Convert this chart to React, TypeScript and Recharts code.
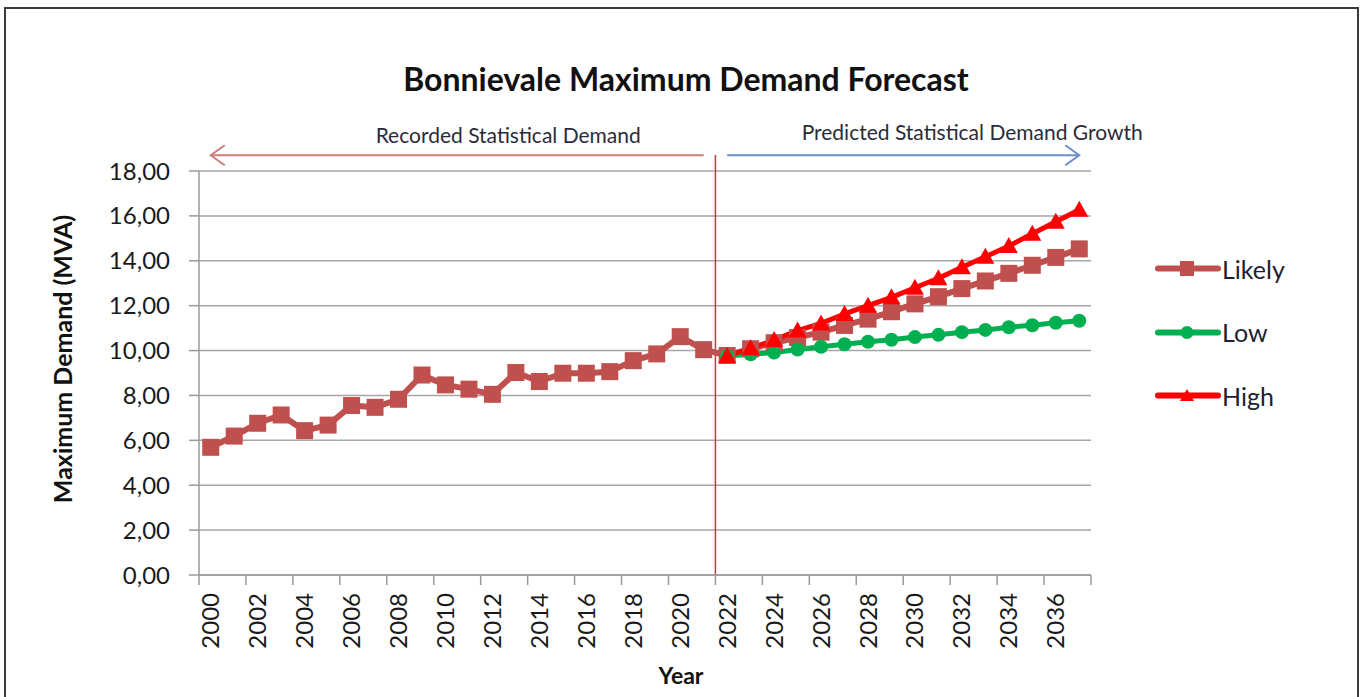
import React from 'react';
import { LineChart, Line, XAxis, YAxis, CartesianGrid, ReferenceLine, Legend } from 'recharts';

// ---------- data ----------
const years = [
  '2000', '2001', '2002', '2003', '2004', '2005', '2006', '2007', '2008', '2009',
  '2010', '2011', '2012', '2013', '2014', '2015', '2016', '2017', '2018', '2019',
  '2020', '2021', '2022', '2023', '2024', '2025', '2026', '2027', '2028', '2029',
  '2030', '2031', '2032', '2033', '2034', '2035', '2036', '2037',
];

const likelyValues = [
  5.69, 6.19, 6.76, 7.13, 6.43, 6.68, 7.55, 7.47, 7.83, 8.91,
  8.47, 8.28, 8.05, 9.02, 8.62, 8.99, 8.99, 9.06, 9.55, 9.85,
  10.62, 10.04, 9.78, 10.08, 10.35, 10.58, 10.82, 11.12, 11.4, 11.73,
  12.08, 12.4, 12.76, 13.1, 13.44, 13.8, 14.15, 14.53,
];

const forecastYears = [
  '2022', '2023', '2024', '2025', '2026', '2027', '2028', '2029',
  '2030', '2031', '2032', '2033', '2034', '2035', '2036', '2037',
];

const lowValues = [
  9.76, 9.83, 9.91, 10.05, 10.17, 10.28, 10.39, 10.48,
  10.6, 10.7, 10.82, 10.92, 11.04, 11.13, 11.24, 11.33,
];

const highValues = [
  9.76, 10.1, 10.47, 10.89, 11.21, 11.63, 12.0, 12.37,
  12.8, 13.22, 13.71, 14.18, 14.66, 15.2, 15.74, 16.27,
];

const yTicks = [0, 2, 4, 6, 8, 10, 12, 14, 16, 18];

const recordedFrom = '2000';
const recordedTo = '2021';
const predictedFrom = '2022';
const predictedTo = '2037';

const data = years.map((year, i) => {
  const f = forecastYears.indexOf(year);
  return {
    year,
    likely: likelyValues[i],
    low: f >= 0 ? lowValues[f] : null,
    high: f >= 0 ? highValues[f] : null,
  };
});

// ---------- layout / style ----------
const W = 1368;
const H = 697;
const MARGIN = { top: 171, right: 277, bottom: 42, left: 79 };
const Y_AXIS_W = 120;
const X_AXIS_H = 80;
const PLOT_W = W - MARGIN.left - MARGIN.right - Y_AXIS_W;
const HALF_BAND = PLOT_W / years.length / 2;
const ANNOT_Y = 18.7;

const FONT = 'Lato, "Open Sans", sans-serif';
const LIKELY = '#C0504D';
const LOW = '#00B050';
const HIGH = '#FF0000';
const GRID = '#A6A6A6';
const AXIS = '#9A9A9A';
const TEXT = '#1a1a1a';

const squareDot = (p: any) => {
  if (p.cx == null || p.cy == null) return <g key={`s${p.index}`} />;
  return <rect key={`s${p.index}`} x={p.cx - 8.5} y={p.cy - 8.5} width={17} height={17} fill={LIKELY} />;
};
const circleDot = (p: any) => {
  if (p.cx == null || p.cy == null) return <g key={`c${p.index}`} />;
  return <circle key={`c${p.index}`} cx={p.cx} cy={p.cy} r={7} fill={LOW} />;
};
const triangleDot = (p: any) => {
  if (p.cx == null || p.cy == null) return <g key={`t${p.index}`} />;
  const { cx, cy } = p;
  return (
    <polygon
      key={`t${p.index}`}
      points={`${cx},${cy - 9} ${cx - 9},${cy + 7} ${cx + 9},${cy + 7}`}
      fill={HIGH}
    />
  );
};

const XTick = (props: any) => {
  const { x, y, payload } = props;
  const left = x - HALF_BAND;
  const isLast = payload && payload.index === years.length - 2;
  return (
    <g>
      <line x1={left} x2={left} y1={y} y2={y + 10} stroke={AXIS} strokeWidth={1.5} />
      {isLast && (
        <line x1={x + 3 * HALF_BAND} x2={x + 3 * HALF_BAND} y1={y} y2={y + 10} stroke={AXIS} strokeWidth={1.5} />
      )}
      <text
        x={x + 8.5}
        y={y + 18}
        transform={`rotate(-90, ${x + 8.5}, ${y + 18})`}
        textAnchor="end"
        fontSize={24}
        fill={TEXT}
        fontFamily={FONT}
      >
        {payload.value}
      </text>
    </g>
  );
};

const arrowShape = (color: string, tip: 'start' | 'end', label: string, dx: number, dy: number) => (p: any) => {
  const { x1, y1, x2, y2 } = p;
  const tx = tip === 'start' ? x1 : x2;
  const dir = tip === 'start' ? 1 : -1;
  return (
    <g>
      <line x1={x1} y1={y1} x2={x2} y2={y2} stroke={color} strokeWidth={2} />
      <polyline
        points={`${tx + dir * 14},${y1 - 10} ${tx},${y1} ${tx + dir * 14},${y1 + 10}`}
        fill="none"
        stroke={color}
        strokeWidth={2}
      />
      <text x={(x1 + x2) / 2 + dx} y={y1 + dy} textAnchor="middle" fontSize={21} fill="#2b2b3a" fontFamily={FONT}>
        {label}
      </text>
    </g>
  );
};

const dividerShape = (p: any) => {
  const top = Math.min(p.y1, p.y2);
  const bottom = Math.max(p.y1, p.y2);
  return <line x1={p.x1} x2={p.x2} y1={top - 16} y2={bottom} stroke="#B5403D" strokeWidth={1.5} />;
};

const legendRows = [
  { key: 'likely', name: 'Likely', color: LIKELY },
  { key: 'low', name: 'Low', color: LOW },
  { key: 'high', name: 'High', color: HIGH },
];

const legendMarker = (key: string, color: string) => {
  if (key === 'likely') return <rect x={25} y={5} width={14} height={15} fill={color} />;
  if (key === 'low') return <circle cx={32} cy={12.5} r={6.5} fill={color} />;
  return <polygon points="32,6 25,18 39,18" fill={color} />;
};

const renderLegend = () => (
  <div style={{ fontFamily: FONT }}>
    {legendRows.map((r) => (
      <div key={r.key} style={{ height: 63.5, display: 'flex', alignItems: 'center' }}>
        <svg width={66} height={25}>
          <line x1={3} y1={12.5} x2={63} y2={12.5} stroke={r.color} strokeWidth={6} strokeLinecap="round" />
          {legendMarker(r.key, r.color)}
        </svg>
        <span style={{ fontSize: 25, color: '#1f1f33', marginLeft: 1 }}>{r.name}</span>
      </div>
    ))}
  </div>
);

export default function App() {
  return (
    <div style={{ position: 'absolute', left: 0, top: 0, width: W, height: H, background: '#fff', fontFamily: FONT, overflow: 'hidden' }}>
      <div
        style={{
          position: 'absolute',
          left: 4,
          top: 7,
          width: 1351,
          height: 710,
          borderLeft: '2px solid #3a3a3a',
          borderTop: '2px solid #3a3a3a',
          borderRight: '2px solid #3a3a3a',
        }}
      />
      <LineChart width={W} height={H} data={data} margin={MARGIN} style={{ fontFamily: FONT }}>
        <CartesianGrid vertical={false} stroke={GRID} strokeWidth={1.5} />
        <XAxis
          dataKey="year"
          scale="band"
          interval={1}
          height={X_AXIS_H}
          tickLine={false}
          tickSize={0}
          tickMargin={0}
          axisLine={{ stroke: AXIS, strokeWidth: 1.5 }}
          tick={(props: any) => <XTick {...props} />}
        />
        <YAxis
          width={Y_AXIS_W}
          domain={[0, 18]}
          ticks={yTicks}
          interval={0}
          tickSize={10}
          tickMargin={19}
          tickLine={{ stroke: AXIS, strokeWidth: 1.5 }}
          axisLine={{ stroke: AXIS, strokeWidth: 1.5 }}
          tick={{ fontSize: 24, fill: TEXT, fontFamily: FONT }}
          tickFormatter={(v: number) => v.toFixed(2).replace('.', ',')}
        />
        <ReferenceLine x={predictedFrom} position="start" ifOverflow="visible" shape={dividerShape} />
        <ReferenceLine
          ifOverflow="visible"
          segment={[{ x: recordedFrom, y: ANNOT_Y }, { x: recordedTo, y: ANNOT_Y }]}
          shape={arrowShape('#CC7F7D', 'start', 'Recorded Statistical Demand', 51, -12)}
        />
        <ReferenceLine
          ifOverflow="visible"
          segment={[{ x: predictedFrom, y: ANNOT_Y }, { x: predictedTo, y: ANNOT_Y }]}
          shape={arrowShape('#6A8FCB', 'end', 'Predicted Statistical Demand Growth', 69, -15)}
        />
        <Line
          type="linear"
          dataKey="likely"
          name="Likely"
          stroke={LIKELY}
          strokeWidth={6}
          strokeLinejoin="round"
          dot={squareDot}
          activeDot={false}
          isAnimationActive={false}
        />
        <Line
          type="linear"
          dataKey="low"
          name="Low"
          stroke={LOW}
          strokeWidth={5}
          strokeLinejoin="round"
          dot={circleDot}
          activeDot={false}
          isAnimationActive={false}
        />
        <Line
          type="linear"
          dataKey="high"
          name="High"
          stroke={HIGH}
          strokeWidth={5}
          strokeLinejoin="round"
          dot={triangleDot}
          activeDot={false}
          isAnimationActive={false}
        />
        <Legend
          layout="vertical"
          align="center"
          verticalAlign="middle"
          content={renderLegend}
          wrapperStyle={{ left: 1155, top: 237, width: 190 }}
        />
      </LineChart>
      <svg width={W} height={H} style={{ position: 'absolute', left: 0, top: 0, pointerEvents: 'none' }}>
        <text x={686} y={91} textAnchor="middle" fontSize={32} fontWeight="bold" fill="#111" fontFamily={FONT}>
          Bonnievale Maximum Demand Forecast
        </text>
        <text
          transform="translate(72,359) rotate(-90)"
          textAnchor="middle"
          fontSize={25}
          fontWeight="bold"
          fill="#111"
          fontFamily={FONT}
        >
          Maximum Demand (MVA)
        </text>
        <text x={681} y={684} textAnchor="middle" fontSize={23} fontWeight="bold" fill="#111" fontFamily={FONT}>
          Year
        </text>
      </svg>
    </div>
  );
}
